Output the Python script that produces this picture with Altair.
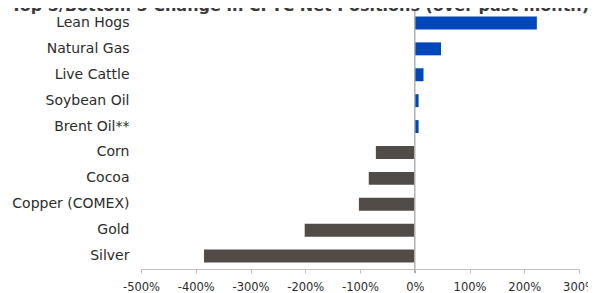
import altair as alt
import pandas as pd

title_text = "Top 5/Bottom 5 Change in CFTC Net Positions (over past month)"
commodities = ["Lean Hogs", "Natural Gas", "Live Cattle", "Soybean Oil", "Brent Oil**",
               "Corn", "Cocoa", "Copper (COMEX)", "Gold", "Silver"]
changes = [223, 48, 16, 7, 7, -71, -84, -102, -201, -385]
tick_values = [-500, -400, -300, -200, -100, 0, 100, 200, 300]

df = pd.DataFrame({
    "commodity": commodities,
    "change": changes,
    "sign": ["pos" if v >= 0 else "neg" for v in changes],
})

W, H = 438, 259
FONT = "DejaVu Sans"

base = alt.Chart(df)

bars = base.mark_bar().encode(
    y=alt.Y("commodity:N", sort=commodities,
            scale=alt.Scale(paddingInner=0.5, paddingOuter=0.25),
            axis=alt.Axis(title=None, domain=False, ticks=False, labelPadding=12,
                          labelFontSize=14, labelFont=FONT, labelColor="#2b2b2b")),
    x=alt.X("change:Q", scale=alt.Scale(domain=[-500, 300], nice=False, zero=False),
            axis=alt.Axis(title=None, values=tick_values, grid=False,
                          domainColor="#bfbfbf", tickColor="#bfbfbf", tickSize=4,
                          labelPadding=8, labelFontSize=11.5, labelFont=FONT,
                          labelColor="#2b2b2b", labelFlush=False,
                          labelExpr="(datum.value < 0 ? '-' : '') + abs(datum.value) + '%'")),
    color=alt.Color("sign:N", scale=alt.Scale(domain=["pos", "neg"], range=["#0047BB", "#524C48"]),
                    legend=None),
)

zero = alt.Chart(pd.DataFrame({"z": [0]})).mark_rule(color="#b0b0b0", strokeWidth=1.5).encode(
    x=alt.X("z:Q"),
    y=alt.value(0),
    y2=alt.value(H + 4),
)

title = alt.Chart(pd.DataFrame({"t": [title_text]})).mark_text(
    font=FONT, fontSize=16, fontWeight="bold", color="#3a3a3a", align="center", baseline="alphabetic"
).encode(text="t:N", x=alt.value(159), y=alt.value(1))

chart = alt.layer(bars, zero, title).properties(
    width=W, height=H,
    autosize=alt.AutoSizeParams(type="none"),
    padding={"left": 133, "top": 2, "right": 9, "bottom": 24},
).configure_view(stroke=None)

chart.save("out.html", embed_options={"renderer": "svg", "actions": False})
